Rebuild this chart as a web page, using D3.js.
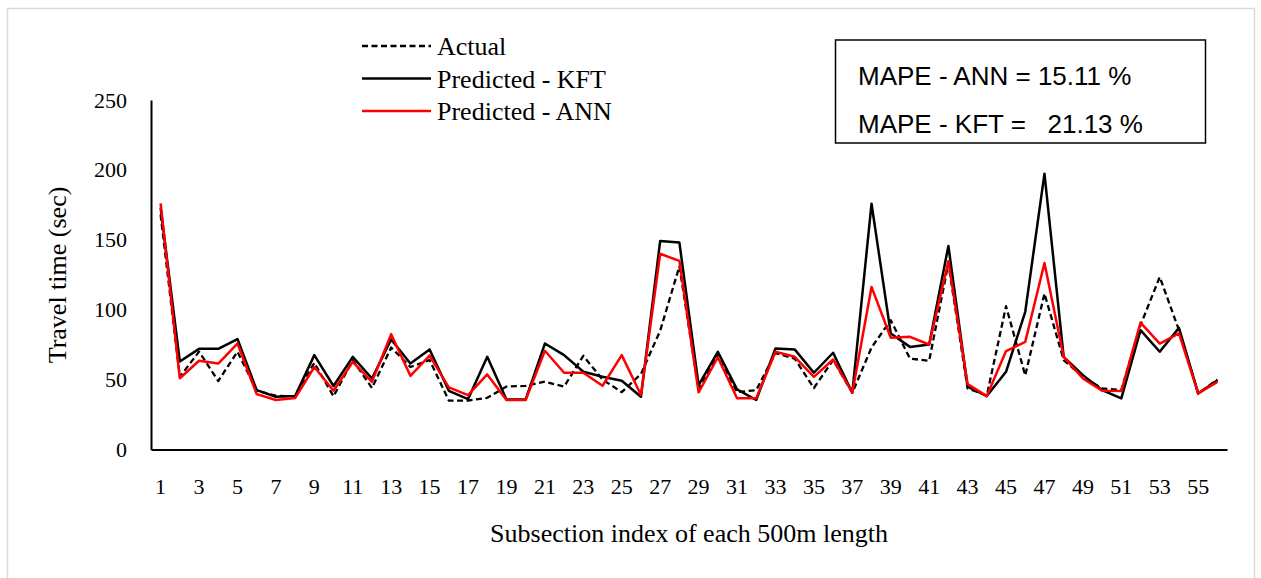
<!DOCTYPE html>
<html>
<head>
<meta charset="utf-8">
<script src="https://cdn.jsdelivr.net/npm/d3@7"></script>
<style>
  html, body { margin: 0; padding: 0; background: #fff; }
  svg { display: block; }
</style>
</head>
<body>
<svg id="chart" width="1261" height="578"></svg>
<script>
const indices = d3.range(1, 57);
const actual = [168, 52, 70, 49, 70, 42, 38.5, 38, 62, 38, 64, 44, 73, 59, 64, 35, 35, 37, 45, 45.5,
  48.5, 45, 67, 50, 41, 54, 85, 131, 43, 68, 41, 42.5, 69, 65, 44, 64, 40.6, 73, 92.5, 65,
  63.5, 133, 43.7, 38.6, 102.5, 53, 111.6, 64, 52, 43.7, 42.5, 89, 123.4, 85.4, 40, 50];
const kft = [173, 63, 72, 72, 79, 42.5, 37.7, 38.2, 67.5, 45.4, 66.3, 50.8, 78.7, 61.5, 71.6, 42, 36, 66.3, 35.8, 35.8,
  75.8, 67.5, 55.6, 52, 49.2, 37.7, 149.2, 148, 46, 69.9, 43, 35.4, 72.3, 71.6, 54.9, 69.2, 40.6, 175.8, 83, 73.4,
  75.1, 145.6, 44.9, 38.2, 55.6, 98.5, 197.3, 66.3, 53.2, 42.5, 36.6, 85.4, 69.9, 87, 40.1, 49.6];
const ann = [176, 51, 63.5, 61.5, 75.8, 39.6, 35.4, 36.8, 59, 42, 62.7, 48.4, 82.5, 52.7, 67.2, 44.4, 38.9, 53.7, 35.4, 35.4,
  70.6, 54.9, 54.9, 45.6, 67.5, 39, 140, 134.9, 40.9, 66, 36.6, 36.6, 69.9, 66.3, 52, 64.4, 40.6, 116.3, 79.9, 80.6,
  75.1, 134.6, 46.8, 38.2, 70.4, 77, 133.4, 66.3, 50.8, 42, 41.8, 90.8, 75.8, 83, 40.1, 48.4];
const yTicks = [0, 50, 100, 150, 200, 250];
const xTickLabels = indices.filter(d => d % 2 === 1);
const seriesNames = ["Actual", "Predicted - KFT", "Predicted - ANN"];
const mapeLines = ["MAPE - ANN = 15.11 %", "MAPE - KFT =   21.13 %"];
const xTitle = "Subsection index of each 500m length";
const yTitle = "Travel time (sec)";

const svg = d3.select("#chart");
const serif = "'Liberation Serif', 'Times New Roman', serif";
const sans = "'Liberation Sans', Arial, sans-serif";

// outer frame
svg.append("rect").attr("x", 7.5).attr("y", 8.5).attr("width", 1247).attr("height", 600)
  .attr("fill", "none").attr("stroke", "#d9d9d9").attr("stroke-width", 1.5);

const xBand = d3.scaleBand().domain(indices).range([151, 1227]);
const xPos = d => xBand(d) + xBand.bandwidth() / 2;
const y = d3.scaleLinear().domain([0, 250]).range([449.5, 100]);

// axes
const xAxis = svg.append("g").attr("transform", "translate(0,449.5)")
  .call(d3.axisBottom(xBand).tickValues(xTickLabels).tickSize(0).tickSizeOuter(0).tickPadding(29));
xAxis.select(".domain").attr("stroke", "#000").attr("stroke-width", 2);
xAxis.selectAll("text").attr("font-family", serif).attr("font-size", 22).attr("fill", "#000");

const yAxis = svg.append("g").attr("transform", "translate(151,0)")
  .call(d3.axisLeft(y).tickValues(yTicks).tickSize(0).tickSizeOuter(0).tickPadding(24));
yAxis.select(".domain").attr("stroke", "#000").attr("stroke-width", 2);
yAxis.selectAll("text").attr("font-family", serif).attr("font-size", 22).attr("fill", "#000");

// lines
const line = data => d3.line().x((d, i) => xPos(indices[i])).y(d => y(d))(data);
svg.append("path").attr("d", line(actual)).attr("fill", "none").attr("stroke", "#000")
  .attr("stroke-width", 2.3).attr("stroke-dasharray", "6,3.5").attr("stroke-linejoin", "round");
svg.append("path").attr("d", line(kft)).attr("fill", "none").attr("stroke", "#000")
  .attr("stroke-width", 2.5).attr("stroke-linejoin", "round");
svg.append("path").attr("d", line(ann)).attr("fill", "none").attr("stroke", "#ff0000")
  .attr("stroke-width", 2.5).attr("stroke-linejoin", "round");

// titles
svg.append("text").attr("x", 689).attr("y", 542).attr("text-anchor", "middle")
  .attr("font-family", serif).attr("font-size", 26).text(xTitle);
svg.append("text").attr("transform", "translate(66,275) rotate(-90)").attr("text-anchor", "middle")
  .attr("font-family", serif).attr("font-size", 26).text(yTitle);

// legend
const legendStyles = [
  { stroke: "#000", dash: "6,3.5" },
  { stroke: "#000", dash: null },
  { stroke: "#ff0000", dash: null }
];
const lg = svg.append("g");
seriesNames.forEach((name, i) => {
  const ly = 46 + i * 32.5;
  lg.append("line").attr("x1", 362).attr("x2", 431).attr("y1", ly).attr("y2", ly)
    .attr("stroke", legendStyles[i].stroke).attr("stroke-width", 2.3)
    .attr("stroke-dasharray", legendStyles[i].dash);
  lg.append("text").attr("x", 437).attr("y", ly + 9).attr("font-family", serif)
    .attr("font-size", 26).attr("fill", "#000").text(name);
});

// MAPE box
svg.append("rect").attr("x", 835.5).attr("y", 40).attr("width", 370).attr("height", 103)
  .attr("fill", "#fff").attr("stroke", "#000").attr("stroke-width", 1.5);
mapeLines.forEach((t, i) => {
  svg.append("text").attr("x", 858).attr("y", 85 + i * 48)
    .attr("font-family", sans).attr("font-size", 26).attr("fill", "#000")
    .style("white-space", "pre").text(t);
});
</script>
</body>
</html>
